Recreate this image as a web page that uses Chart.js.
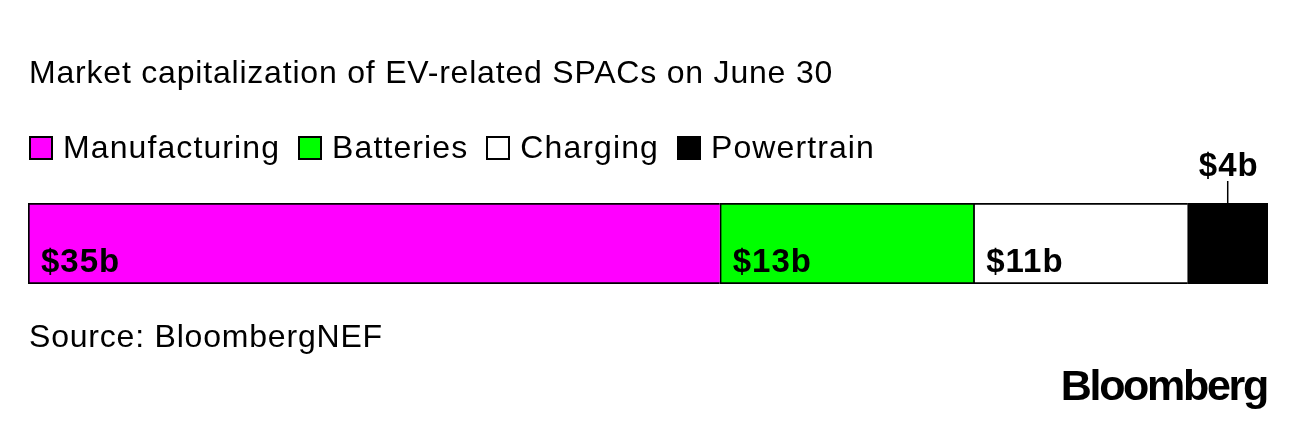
<!DOCTYPE html>
<html><head><meta charset="utf-8">
<script src="https://cdn.jsdelivr.net/npm/chart.js@4/dist/chart.umd.min.js"></script>
<style>
html,body{margin:0;padding:0;background:#fff;width:1296px;height:422px;overflow:hidden;font-family:"Liberation Sans",Arial,sans-serif;color:#000;}
#wrap{position:relative;width:1296px;height:422px;}
#c{position:absolute;left:0;top:0;}
.txt{position:absolute;font-size:32px;letter-spacing:0.8px;white-space:nowrap;line-height:normal;}
.title{left:29px;top:54px;}
.legend{left:29px;top:129px;display:flex;align-items:center;letter-spacing:1.1px;}
.legend .item{display:flex;align-items:center;margin-right:18px;}
.legend .sw{width:20px;height:20px;border:2px solid #000;margin-right:10px;}
.source{left:29px;top:318px;}
.logo{position:absolute;right:29px;top:361px;font-size:43px;font-weight:bold;letter-spacing:-2.3px;white-space:nowrap;}
</style>
</head><body>
<div id="wrap">
<canvas id="c" width="1296" height="422"></canvas>
<div class="txt title">Market capitalization of EV-related SPACs on June 30</div>
<div class="txt legend" id="legend"></div>
<div class="txt source">Source: BloombergNEF</div>
<div class="logo">Bloomberg</div>
</div>
<script>
const categories = ["EV-related SPACs"];
const segments = ["Manufacturing", "Batteries", "Charging", "Powertrain"];
const values = [35.2, 12.9, 10.9, 4.1];
const valueLabels = ["$35b", "$13b", "$11b", "$4b"];
const colors = ["#ff00ff", "#00ff00", "#ffffff", "#000000"];

const legend = document.getElementById('legend');
segments.forEach((s, i) => {
  const it = document.createElement('div'); it.className = 'item';
  const sw = document.createElement('div'); sw.className = 'sw'; sw.style.background = colors[i];
  const tx = document.createElement('span'); tx.textContent = s;
  it.appendChild(sw); it.appendChild(tx); legend.appendChild(it);
});

const total = values.reduce((a, b) => a + b, 0);

const labelPlugin = {
  id: 'segLabels',
  afterDatasetsDraw(chart) {
    const ctx = chart.ctx;
    ctx.save();
    ctx.font = 'bold 33px "Liberation Sans", Arial, sans-serif';
    if ('letterSpacing' in ctx) ctx.letterSpacing = '1px';
    ctx.fillStyle = '#000';
    ctx.strokeStyle = '#000';
    ctx.textBaseline = 'alphabetic';
    chart.data.datasets.forEach((ds, i) => {
      const bar = chart.getDatasetMeta(i).data[0];
      const left = Math.min(bar.base, bar.x), right = Math.max(bar.base, bar.x);
      const top = bar.y - bar.height / 2, bottom = bar.y + bar.height / 2;
      const label = valueLabels[i];
      if (right - left > 100) {
        ctx.textAlign = 'left';
        ctx.fillText(label, left + 13, bottom - 12);
      } else {
        const cx = (left + right) / 2;
        ctx.textAlign = 'center';
        ctx.fillText(label, cx + 1, top - 27);
        ctx.lineWidth = 1.5;
        ctx.beginPath();
        ctx.moveTo(cx, top - 22);
        ctx.lineTo(cx, top);
        ctx.stroke();
      }
    });
    ctx.restore();
  }
};

new Chart(document.getElementById('c'), {
  type: 'bar',
  data: {
    labels: categories,
    datasets: segments.map((s, i) => ({
      label: s,
      data: [values[i]],
      backgroundColor: colors[i],
      borderColor: '#000',
      borderWidth: {top: 2, bottom: 2, left: 2, right: i === segments.length - 1 ? 2 : 0},
      borderSkipped: false,
      barPercentage: 1,
      categoryPercentage: 1
    }))
  },
  options: {
    indexAxis: 'y',
    responsive: false,
    animation: false,
    layout: {padding: {left: 28, right: 28, top: 203, bottom: 138}},
    plugins: {legend: {display: false}, tooltip: {enabled: false}, title: {display: false}},
    scales: {
      x: {stacked: true, display: false, min: 0, max: total},
      y: {stacked: true, display: false}
    }
  },
  plugins: [labelPlugin]
});
</script>
</body></html>
